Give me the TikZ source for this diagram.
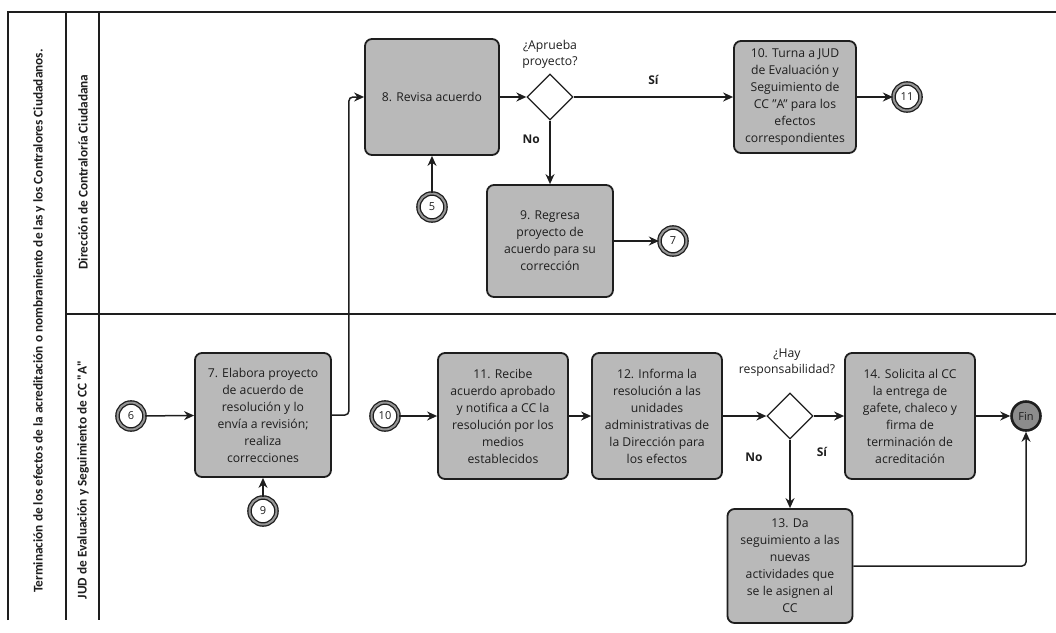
\documentclass[tikz,border=0pt]{standalone}
\usepackage{fontspec}
\setmainfont{Open Sans}
\newfontfamily\lanefont{Carlito}
\usetikzlibrary{arrows.meta,shapes.geometric}
\definecolor{ink}{RGB}{30,30,30}
\definecolor{taskgray}{RGB}{185,185,185}
\definecolor{ringgray}{RGB}{150,150,150}
\definecolor{endgray}{RGB}{140,140,140}

\begin{document}
\begin{tikzpicture}[x=1pt,y=-1pt,
  every node/.style={text=ink},
  task/.style={draw=ink, line width=1.8pt, fill=taskgray, rounded corners=7pt,
    align=center, inner sep=0pt, font=\fontsize{12.2}{17}\selectfont},
  gate/.style={diamond, draw=ink, line width=1.3pt, fill=white,
    minimum width=46pt, minimum height=46pt, inner sep=0pt},
  link/.style={circle, draw=ink, line width=1.3pt, double=ringgray,
    double distance=2pt, fill=white, minimum size=27pt, inner sep=0pt,
    font=\fontsize{11}{13}\selectfont},
  finish/.style={circle, draw=ink, line width=2.6pt, fill=endgray,
    minimum size=29pt, inner sep=0pt, font=\fontsize{11}{13}\selectfont},
  flow/.style={draw=ink, line width=1.5pt, -{Stealth[length=10pt,width=9pt]}},
  lane/.style={draw=ink, line width=1.5pt},
  lanetext/.style={rotate=90, font=\lanefont\bfseries\fontsize{13.3}{15}\selectfont},
  cond/.style={font=\fontsize{12.2}{16}\selectfont, align=center},
  branch/.style={font=\bfseries\fontsize{12}{14}\selectfont}
]
\useasboundingbox (0,0) rectangle (1056,632);

% pool and lanes
\draw[lane] (8,620) -- (8,12) -- (1056,12);
\draw[lane] (66,12) -- (66,620);
\draw[lane] (99,12) -- (99,620);
\draw[lane] (66,314) -- (1056,314);

\node[lanetext] (pooltitle) at (39,321) {Terminación de los efectos de la acreditación o nombramiento de las y los Contralores Ciudadanos.};
\node[lanetext] (laneA) at (83,172) {Dirección de Contraloría Ciudadana};
\node[lanetext] (laneB) at (83,480) {JUD de Evaluación y Seguimiento de CC "A"};

% upper lane
\node[task, minimum width=134pt, minimum height=116pt] (t8) at (432,97) {8. Revisa acuerdo};
\node[gate] (g1) at (550,97) {};
\node[cond] (q1) at (550,54) {¿Aprueba\\proyecto?};
\node[task, minimum width=122pt, minimum height=112pt] (t10) at (795,97)
  {10. Turna a JUD\\de Evaluación y\\Seguimiento de\\CC "A" para los\\efectos\\correspondientes};
\node[link] (e11) at (907,97) {11};
\node[link] (e5) at (432,207) {5};
\node[task, minimum width=126pt, minimum height=112pt] (t9) at (550,241)
  {9. Regresa\\proyecto de\\acuerdo para su\\corrección};
\node[link] (e7) at (673,241) {7};

% lower lane
\node[link] (e6) at (131,416) {6};
\node[task, minimum width=136pt, minimum height=124pt] (t7) at (263,415)
  {7. Elabora proyecto\\de acuerdo de\\resolución y lo\\envía a revisión;\\realiza\\correcciones};
\node[link] (e9) at (263,511) {9};
\node[link] (e10) at (385,416) {10};
\node[task, minimum width=130pt, minimum height=126pt] (t11) at (503,416)
  {11. Recibe\\acuerdo aprobado\\y notifica a CC la\\resolución por los\\medios\\establecidos};
\node[task, minimum width=130pt, minimum height=126pt] (t12) at (657,416)
  {12. Informa la\\resolución a las\\unidades\\administrativas de\\la Dirección para\\los efectos};
\node[gate] (g2) at (790,416) {};
\node[cond] (q2) at (787,363) {¿Hay\\responsabilidad?};
\node[task, minimum width=130pt, minimum height=126pt] (t14) at (910,416)
  {14. Solicita al CC\\la entrega de\\gafete, chaleco y\\firma de\\terminación de\\acreditación};
\node[finish] (fin) at (1026,416) {Fin};
\node[task, minimum width=125pt, minimum height=114pt] (t13) at (790,566)
  {13. Da\\seguimiento a las\\nuevas\\actividades que\\se le asignen al\\CC};

% sequence flows
\draw[flow] (t8) -- (g1);
\draw[flow] (g1) -- node[branch, pos=0.5, above=8pt] (si1) {Sí} (t10);
\draw[flow] (t10) -- (e11);
\draw[flow] (e5) -- (t8);
\draw[flow] (g1.south) -- node[branch, pos=0.3, left=6pt] (no1) {No} (t9.north);
\draw[flow] (t9) -- (e7);

\draw[flow] (e6) -- (t7);
\draw[flow, rounded corners=4pt] (t7.east) -- ++(17,0) |- (t8.west);
\draw[flow] (e9) -- (t7);
\draw[flow] (e10) -- (t11);
\draw[flow] (t11) -- (t12);
\draw[flow] (t12) -- (g2);
\draw[flow] (g2) -- (t14);
\draw[flow] (t14) -- (fin);
\draw[flow] (g2.south) -- (t13.north);
\node[branch] (no2) at (754,457) {No};
\node[branch] (si2) at (822,452) {Sí};
\draw[flow, rounded corners=4pt] (t13.east) -| (fin.south);

\end{tikzpicture}
\end{document}
